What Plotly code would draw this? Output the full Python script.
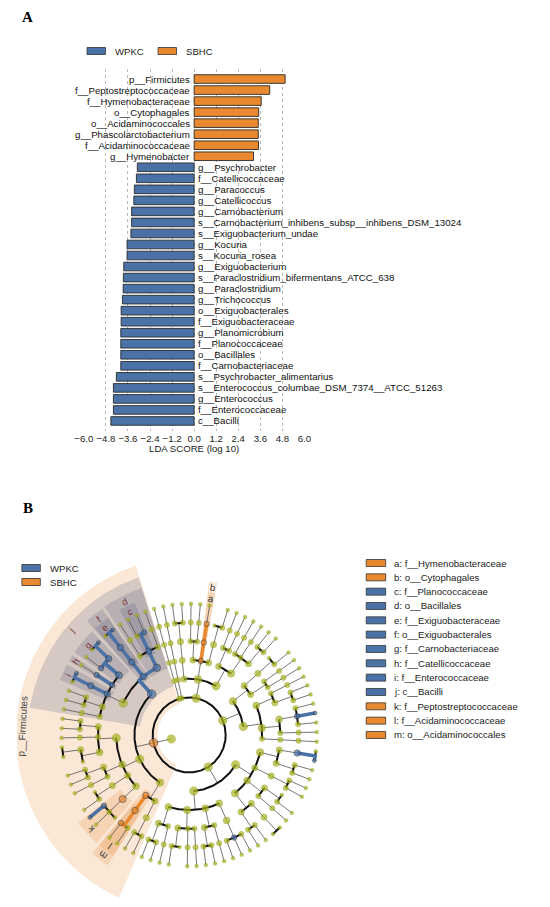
"""LEfSe 结果图：A 为 LDA 条形图，B 为分类树 cladogram。"""

import math

import plotly.graph_objects as go

W, H = 550, 907
OFF = 8  # 页面 body 默认边距
FONT = "Liberation Sans, Arial, sans-serif"
BLUE = "#4a72a6"
ORANGE = "#e8892f"
GREEN = "#a9b51e"

# ---- panel A data -------------------------------------------------------
SBHC_TAXA = [
    "p__Firmicutes", "f__Peptostreptococcaceae", "f__Hymenobacteraceae",
    "o__Cytophagales", "o__Acidaminococcales", "g__Phascolarctobacterium",
    "f__Acidaminococcaceae", "g__Hymenobacter",
]
SBHC_LDA = [4.95, 4.11, 3.65, 3.51, 3.49, 3.49, 3.50, 3.23]

WPKC_TAXA = [
    "g__Psychrobacter", "f__Catellicoccaceae", "g__Paracoccus", "g__Catellicoccus",
    "g__Carnobacterium", "s__Carnobacterium_inhibens_subsp__inhibens_DSM_13024",
    "s__Exiguobacterium_undae", "g__Kocuria", "s__Kocuria_rosea",
    "g__Exiguobacterium", "s__Paraclostridium_bifermentans_ATCC_638",
    "g__Paraclostridium", "g__Trichococcus", "o__Exiguobacterales",
    "f__Exiguobacteraceae", "g__Planomicrobium", "f__Planococcaceae",
    "o__Bacillales", "f__Carnobacteriaceae", "s__Psychrobacter_alimentarius",
    "s__Enterococcus_columbae_DSM_7374__ATCC_51263", "g__Enterococcus",
    "f__Enterococcaceae", "c__Bacilli",
]
WPKC_LDA = [3.09, 3.14, 3.25, 3.28, 3.40, 3.40, 3.44, 3.65, 3.65, 3.83, 3.85,
            3.86, 3.90, 3.97, 3.97, 3.99, 3.99, 3.99, 3.99, 4.23, 4.39, 4.39,
            4.39, 4.53]

LDA_TICKS = [-6.0, -4.8, -3.6, -2.4, -1.2, 0.0, 1.2, 2.4, 3.6, 4.8, 6.0]

# ---- panel B data -------------------------------------------------------
LETTER_TAXA = [
    "f__Hymenobacteraceae", "o__Cytophagales", "f__Planococcaceae",
    "o__Bacillales", "f__Exiguobacteraceae", "o__Exiguobacterales",
    "f__Carnobacteriaceae", "f__Catellicoccaceae", "f__Enterococcaceae",
    "c__Bacilli", "f__Peptostreptococcaceae", "f__Acidaminococcaceae",
    "o__Acidaminococcales",
]
LETTERS = list("abcdefghijklm")

# 树结构：(名称, 子节点) 为命名节点，list 为匿名节点，int n 表示 n 个匿名叶子
FIRMICUTES = ("p__Firmicutes", [
    ("c__Bacilli", [
        ("o__Bacillales", [[1], ("f__Planococcaceae", [("g__Planomicrobium", 1), 1]), [1]]),
        ("o__Exiguobacterales", [("f__Exiguobacteraceae", [
            ("g__Exiguobacterium", [("s__Exiguobacterium_undae", 0), 0])])]),
        [
            ("f__Carnobacteriaceae", [
                ("g__Carnobacterium", [("s__Carnobacterium_inhibens_subsp__inhibens_DSM_13024", 0), 0]),
                ("g__Trichococcus", 1)]),
            ("f__Catellicoccaceae", [("g__Catellicoccus", 1)]),
            ("f__Enterococcaceae", [
                ("g__Enterococcus", [("s__Enterococcus_columbae_DSM_7374__ATCC_51263", 0), 0])]),
            [1, 1],
            [1],
        ],
    ]),
    [
        [[1, 1], [1], [2, 0]],
        [[1, 1], [1]],
        [[0, 1]],
        [("f__Peptostreptococcaceae", [
            ("g__Paraclostridium", [("s__Paraclostridium_bifermentans_ATCC_638", 0)]), 1, 0])],
    ],
    [
        ("o__Acidaminococcales", [("f__Acidaminococcaceae", [("g__Phascolarctobacterium", 1), 1])]),
        [[1, 1]],
    ],
])
PROTEOBACTERIA = [
    [
        [[1, 1], [1]],
        [[1, 0], [1], [1]],
        [[1, 1], [1]],
        [[1, ("g__Paracoccus", 1), 1]],
    ],
    [
        [[1, 1], [2]],
        [[1], [1, 0]],
        [[1, 1]],
        [[1, 1], [("g__Psychrobacter", [("s__Psychrobacter_alimentarius", 0), 0])]],
    ],
]
ACTINOBACTERIA = [
    [[[1]], [[1], [1, ("g__Kocuria", [("s__Kocuria_rosea", 0)]), 1]], [[1, 1], [1]]],
    [[[1], [1]], [[1, 0]]],
]
BACTEROIDETES = [
    [[[1, 1], [1], [1]], [[1], [1]]],
    [[[1, 0]], ("o__Cytophagales", [("f__Hymenobacteraceae", [("g__Hymenobacter", 1)])]), [[1], [1]]],
    [[[1, 1]]],
]
MINOR_A = [[[[1]]]]
MINOR_B = [[[[1]]]]
TREE = [FIRMICUTES, PROTEOBACTERIA, ACTINOBACTERIA, BACTEROIDETES, MINOR_A, MINOR_B]

START_ANGLE = 108.0
RSTEP = 18.75
LABEL_R = {1: 172, 2: 160, 3: 149, 4: 138}
CX, CY = 185, 735  # cladogram centre in page pixels


def px(x):
    return (x - OFF) / W


def py(y):
    return 1 - (y - OFF) / H


def build(spec, level):
    name = ""
    if isinstance(spec, tuple):
        name, spec = spec
    kids = [0] * spec if isinstance(spec, int) else spec
    return {"name": name, "level": level, "kids": [build(k, level + 1) for k in kids]}


def pol(r, a):
    t = math.radians(a)
    return r * math.cos(t), r * math.sin(t)


def arc_pts(r, a0, a1):
    n = max(2, int(abs(a1 - a0)) + 2)
    return [pol(r, a0 + (a1 - a0) * i / (n - 1)) for i in range(n)]


fig = go.Figure()

# ================= panel A =================
order = SBHC_TAXA + WPKC_TAXA
fig.add_trace(go.Bar(
    x=SBHC_LDA, y=SBHC_TAXA, orientation="h", width=0.78,
    marker=dict(color=ORANGE, line=dict(color="#2a2a2a", width=0.9)),
    showlegend=False, hoverinfo="skip", xaxis="x", yaxis="y",
))
fig.add_trace(go.Bar(
    x=[-v for v in WPKC_LDA], y=WPKC_TAXA, orientation="h", width=0.78,
    marker=dict(color=BLUE, line=dict(color="#2a2a2a", width=0.9)),
    showlegend=False, hoverinfo="skip", xaxis="x", yaxis="y",
))

annotations = []
for name in SBHC_TAXA:
    annotations.append(dict(x=0, y=name, xref="x", yref="y", text=name, showarrow=False,
                            xanchor="right", yanchor="middle", xshift=-2,
                            font=dict(size=9.7, color="#111")))
for name in WPKC_TAXA:
    annotations.append(dict(x=0, y=name, xref="x", yref="y", text=name, showarrow=False,
                            xanchor="left", yanchor="middle", xshift=2,
                            font=dict(size=9.7, color="#111")))

shapes = []


def legend_box(x0, yc, color, label, w=19, h=7, gap=8):
    shapes.append(dict(type="rect", xref="paper", yref="paper",
                       x0=px(x0), x1=px(x0 + w), y0=py(yc + h / 2), y1=py(yc - h / 2),
                       fillcolor=color, line=dict(color="#333", width=0.8)))
    annotations.append(dict(x=px(x0 + w + gap), y=py(yc), xref="paper", yref="paper",
                            text=label, showarrow=False, xanchor="left", yanchor="middle",
                            font=dict(size=9.6, color="#222")))


legend_box(80, 51, BLUE, "WPKC")
legend_box(153, 51, ORANGE, "SBHC")

for tag, yy in (("A", 17), ("B", 508)):
    annotations.append(dict(x=px(19), y=py(yy), xref="paper", yref="paper", text=f"<b>{tag}</b>",
                            showarrow=False, xanchor="center", yanchor="middle",
                            font=dict(family="Liberation Serif, serif", size=15, color="#000")))

# ================= panel B =================
root = build(TREE, 0)
leaves = []


def collect(n):
    if not n["kids"]:
        leaves.append(n)
    for k in n["kids"]:
        collect(k)


collect(root)
step = 360.0 / len(leaves)
for i, lf in enumerate(leaves):
    lf["ang"] = START_ANGLE + (i + 0.5) * step


def place(n):
    if n["kids"]:
        for k in n["kids"]:
            place(k)
        n["ang"] = sum(k["ang"] for k in n["kids"]) / len(n["kids"])
        n["a0"] = n["kids"][0]["a0"]
        n["a1"] = n["kids"][-1]["a1"]
        n["nl"] = sum(max(1, k["nl"]) for k in n["kids"])
    else:
        n["a0"] = n["a1"] = n["ang"]
        n["nl"] = 0


place(root)
root["ang"] = max(root["kids"], key=lambda k: k["nl"])["ang"]

group = {n: ORANGE for n in SBHC_TAXA}
group.update({n: BLUE for n in WPKC_TAXA})

nodes = []


def walk(n):
    nodes.append(n)
    for k in n["kids"]:
        walk(k)


walk(root)

# shaded wedges for enriched clades (phylum .. family)
wedges = [n for n in nodes if n["name"] in group and 1 <= n["level"] <= 4]
wedges.sort(key=lambda n: n["level"])
for n in wedges:
    lvl = n["level"]
    pad = 0.25 * (lvl - 1)
    a0 = n["a0"] - step / 2 + pad
    a1 = n["a1"] + step / 2 - pad
    r_in = RSTEP * (lvl + 1) - 5
    r_out = LABEL_R[lvl] + 6
    pts = arc_pts(r_out, a0, a1) + arc_pts(r_in, a1, a0)
    pts.append(pts[0])
    fill = "rgba(232,137,47,0.2)" if group[n["name"]] == ORANGE else "rgba(70,80,118,0.2)"
    fig.add_trace(go.Scatter(
        x=[p[0] for p in pts], y=[p[1] for p in pts], mode="lines", fill="toself",
        fillcolor=fill, line=dict(width=0), hoverinfo="skip", showlegend=False,
        xaxis="x2", yaxis="y2",
    ))
    mid = (n["a0"] + n["a1"]) / 2
    lx, ly = pol(LABEL_R[lvl], mid)
    ang = ((90 - mid) + 180) % 360 - 180
    if lvl == 1:
        text, col = n["name"], "#444"
    else:
        text = LETTERS[LETTER_TAXA.index(n["name"])]
        col = "#7a3535" if group[n["name"]] == BLUE else "#333"
    annotations.append(dict(x=lx, y=ly, xref="x2", yref="y2", text=text, showarrow=False,
                            xanchor="center", yanchor="middle", textangle=ang,
                            font=dict(size=9.6, color=col)))

# thin connectors, thick arcs, highlighted links
tx, ty, ax_, ay_ = [], [], [], []
hl = {BLUE: ([], []), ORANGE: ([], [])}
for n in nodes:
    if not n["kids"]:
        continue
    r0 = RSTEP * (n["level"] + 1)
    r1 = r0 + RSTEP
    for p in (pol(r0, n["ang"]), pol(r1, n["ang"])):
        tx.append(p[0])
        ty.append(p[1])
    tx.append(None)
    ty.append(None)
    if n is root:
        pts = arc_pts(r1, 0, 360)
    else:
        angs = [k["ang"] for k in n["kids"]] + [n["ang"]]
        pts = arc_pts(r1, min(angs), max(angs)) if max(angs) - min(angs) > 0.01 else []
    if pts:
        ax_ += [p[0] for p in pts] + [None]
        ay_ += [p[1] for p in pts] + [None]
    g = group.get(n["name"])
    for k in n["kids"]:
        if g and group.get(k["name"]) == g:
            pts = [pol(r0, n["ang"])] + arc_pts(r1, n["ang"], k["ang"])
            hl[g][0].extend([p[0] for p in pts] + [None])
            hl[g][1].extend([p[1] for p in pts] + [None])

fig.add_trace(go.Scatter(x=tx, y=ty, mode="lines", line=dict(color="#555", width=0.8),
                         hoverinfo="skip", showlegend=False, xaxis="x2", yaxis="y2"))
fig.add_trace(go.Scatter(x=ax_, y=ay_, mode="lines", line=dict(color="#111", width=2),
                         hoverinfo="skip", showlegend=False, xaxis="x2", yaxis="y2"))
for col, (hx, hy) in hl.items():
    fig.add_trace(go.Scatter(x=hx, y=hy, mode="lines", line=dict(color=col, width=3.5),
                             hoverinfo="skip", showlegend=False, xaxis="x2", yaxis="y2"))

for col in (GREEN, BLUE, ORANGE):
    sel = [n for n in nodes if group.get(n["name"], GREEN) == col]
    xy = [pol(RSTEP * (n["level"] + 1), n["ang"]) for n in sel]
    sizes = [min(8.5, 3.8 + 1.6 * math.log2(1 + n["nl"])) for n in sel]
    fig.add_trace(go.Scatter(
        x=[p[0] for p in xy], y=[p[1] for p in xy], mode="markers",
        marker=dict(color=col, size=sizes,
                    line=dict(color="#7f8a12" if col == GREEN else "#333",
                              width=0.4 if col == GREEN else 0.8)),
        hoverinfo="skip", showlegend=False, xaxis="x2", yaxis="y2",
    ))

# panel B legends
legend_box(13, 568, BLUE, "WPKC")
legend_box(13, 582, ORANGE, "SBHC")
for i, (letter, name) in enumerate(zip(LETTERS, LETTER_TAXA)):
    legend_box(367, 563 + 14.33 * i, ORANGE if name in SBHC_TAXA else BLUE,
               f"{letter}: {name}", w=20, gap=6)

fig.update_layout(
    width=W, height=H, margin=dict(l=0, r=0, t=0, b=0),
    paper_bgcolor="white", plot_bgcolor="white",
    font=dict(family=FONT, size=9.6, color="#222"),
    bargap=0.2, barmode="overlay",
    xaxis=dict(
        domain=[px(75.75), px(304.45)], range=[-6.05, 6.05], anchor="y",
        tickvals=LDA_TICKS, ticktext=[f"{v:.1f}".replace("-", "\u2212") for v in LDA_TICKS],
        showgrid=True, gridcolor="#b8b8b8", griddash="dot", gridwidth=0.8,
        zeroline=False, showline=False, ticks="", tickfont=dict(size=9.6, color="#222"),
        title=dict(text="LDA SCORE (log 10)", font=dict(size=9.6, color="#222"), standoff=2),
    ),
    yaxis=dict(
        domain=[py(430.9), py(69.1)], anchor="x", type="category",
        categoryorder="array", categoryarray=order,
        range=[len(order) - 1 + 0.9, -0.9], visible=False,
    ),
    xaxis2=dict(domain=[0, px(330)], range=[OFF - CX, 330 - CX], anchor="y2", visible=False),
    yaxis2=dict(domain=[0, py(540)], range=[CY - H - OFF, CY - 540], anchor="x2", visible=False),
    shapes=shapes, annotations=annotations,
)

fig.write_html("out.html")
